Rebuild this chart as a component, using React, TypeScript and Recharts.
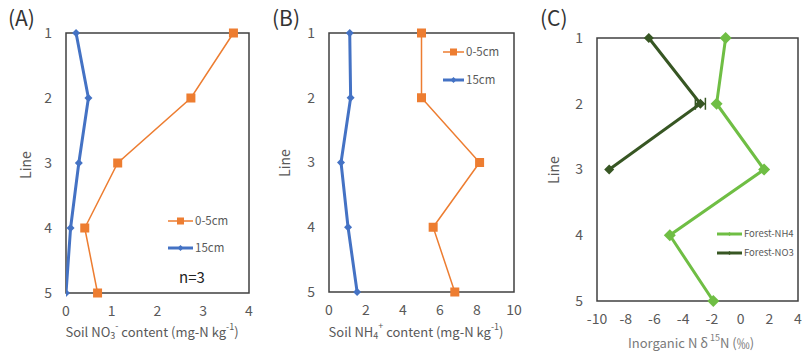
import React from 'react';
import { LineChart, Line, XAxis, YAxis, ReferenceArea, Legend, Label, ErrorBar } from 'recharts';

// ---- data ----
const lines = [1, 2, 3, 4, 5];
const no3Surface = [3.66, 2.73, 1.13, 0.41, 0.69];
const no3Deep = [0.22, 0.49, 0.28, 0.1, 0.0];
const nh4Surface = [5.0, 5.0, 8.14, 5.63, 6.8];
const nh4Deep = [1.12, 1.17, 0.65, 1.03, 1.52];
const d15NH4 = [-1.04, -1.67, 1.64, -4.93, -1.9];
const d15NO3: (number | null)[] = [-6.39, -2.8, -9.15, null, null];
const d15NO3Err: (number | null)[] = [null, 0.35, null, null, null];

const lineTicks = [1, 2, 3, 4, 5];
const ticksA = [0, 1, 2, 3, 4];
const ticksB = [0, 2, 4, 6, 8, 10];
const ticksC = [-10, -8, -6, -4, -2, 0, 2, 4];

const dataA = lines.map((l, i) => ({ line: l, s: no3Surface[i], d: no3Deep[i] }));
const dataB = lines.map((l, i) => ({ line: l, s: nh4Surface[i], d: nh4Deep[i] }));
const dataC = lines.map((l, i) => ({ line: l, nh4: d15NH4[i], no3: d15NO3[i], err: d15NO3Err[i] }));

const ORANGE = '#ED7D31';
const BLUE = '#4472C4';
const LGREEN = '#6FBE44';
const DGREEN = '#375623';
const GREY = '#595959';
const FONT = '"Noto Sans CJK JP", "Noto Sans", sans-serif';

const squareDot = (color: string, size: number) => (p: any) => {
  const { cx, cy, value, index } = p;
  if (cx == null || cy == null || value == null || Number.isNaN(cx)) return <g key={`s${index}`} />;
  return <rect key={`s${index}`} x={cx - size / 2} y={cy - size / 2} width={size} height={size} fill={color} />;
};
const diamondDot = (color: string, size: number) => (p: any) => {
  const { cx, cy, value, index } = p;
  if (cx == null || cy == null || value == null || Number.isNaN(cx)) return <g key={`d${index}`} />;
  const r = size / 2;
  return (
    <polygon
      key={`d${index}`}
      points={`${cx},${cy - r} ${cx + r},${cy} ${cx},${cy + r} ${cx - r},${cy}`}
      fill={color}
    />
  );
};

const tickStyle = { fontSize: 14, fill: GREY, fontFamily: FONT };

type Entry = { color: string; width: number; marker: 'square' | 'diamond'; msize: number; label: string };

const LegendBox = ({ entries, fontSize, gap, lineLen, extra }: { entries: Entry[]; fontSize: number; gap: number; lineLen: number; extra?: React.ReactNode }) => (
  <div style={{ fontFamily: FONT, color: GREY, fontSize, lineHeight: 1 }}>
    {entries.map((e, i) => (
      <div key={i} style={{ display: 'flex', alignItems: 'center', height: 14, marginBottom: i < entries.length - 1 ? gap : 0 }}>
        <svg width={lineLen} height={12} style={{ display: 'block' }}>
          <line x1={0} y1={6} x2={lineLen} y2={6} stroke={e.color} strokeWidth={e.width} />
          {e.marker === 'square' ? (
            <rect x={lineLen / 2 - e.msize / 2} y={6 - e.msize / 2} width={e.msize} height={e.msize} fill={e.color} />
          ) : (
            <polygon
              points={`${lineLen / 2},${6 - e.msize / 2} ${lineLen / 2 + e.msize / 2},6 ${lineLen / 2},${6 + e.msize / 2} ${lineLen / 2 - e.msize / 2},6`}
              fill={e.color}
            />
          )}
        </svg>
        <span style={{ marginLeft: 2 }}>{e.label}</span>
      </div>
    ))}
    {extra}
  </div>
);

const yTitle = (x: number, y: number) => (
  <Label
    content={() => (
      <text x={x} y={y} transform={`rotate(-90 ${x} ${y})`} textAnchor="middle" dominantBaseline="central" fontSize={14} fill={GREY} fontFamily={FONT}>
        Line
      </text>
    )}
  />
);

const xTitle = (x: number, y: number, parts: React.ReactNode, color = GREY) => (
  <Label
    content={() => (
      <text x={x} y={y} textAnchor="middle" dominantBaseline="central" fontSize={13} fill={color} fontFamily={FONT}>
        {parts}
      </text>
    )}
  />
);

const panelTitle = (text: string, left: number) => (
  <div style={{ position: 'absolute', left, top: 3, fontFamily: FONT, fontSize: 21, color: '#333', lineHeight: '28px' }}>{text}</div>
);

const legendWrap = (left: number, top: number, width: number) => ({
  position: 'absolute' as const, left, top, width, bottom: 'auto', right: 'auto', margin: 0,
});

export default function App() {
  return (
    <div style={{ position: 'absolute', left: 0, top: 0, width: 804, height: 355, background: '#fff', overflow: 'hidden' }}>
      {/* Panel A */}
      <div style={{ position: 'absolute', left: 0, top: 0 }}>
        <LineChart layout="vertical" width={270} height={355} data={dataA} margin={{ top: 33, bottom: 22, left: 26, right: 21 }}>
          <XAxis type="number" dataKey="s" domain={[0, 4]} ticks={ticksA} tickLine={false} axisLine={false} height={40} tick={tickStyle} tickMargin={7} allowDataOverflow>
            {xTitle(152, 331, (
              <>
                Soil NO<tspan fontSize={9} dy={4}>3</tspan>
                <tspan fontSize={9} dy={-10}>-</tspan>
                <tspan dy={6}> content (mg-N kg</tspan>
                <tspan fontSize={9} dy={-5}>-1</tspan>
                <tspan dy={5}>)</tspan>
              </>
            ))}
          </XAxis>
          <YAxis type="number" dataKey="line" domain={[1, 5]} ticks={lineTicks} tickLine={false} axisLine={false} width={40} tick={tickStyle} tickMargin={8}>
            {yTitle(25, 165)}
          </YAxis>
          <ReferenceArea x1={0} x2={4} y1={1} y2={5} fill="none" stroke="#404040" strokeWidth={1.5} strokeOpacity={1} />
          <Line dataKey="s" stroke={ORANGE} strokeWidth={1.5} dot={squareDot(ORANGE, 9)} isAnimationActive={false} />
          <Line dataKey="d" stroke={BLUE} strokeWidth={3} dot={diamondDot(BLUE, 8)} isAnimationActive={false} />
          <Legend
            layout="vertical"
            align="center"
            verticalAlign="middle"
            content={() => (
              <LegendBox
                fontSize={11.5}
                gap={13}
                lineLen={25}
                entries={[
                  { color: ORANGE, width: 1.5, marker: 'square', msize: 7, label: '0-5cm' },
                  { color: BLUE, width: 3, marker: 'diamond', msize: 6, label: '15cm' },
                ]}
                extra={<div style={{ marginTop: 14, marginLeft: 11, fontSize: 15, color: '#222' }}>n=3</div>}
              />
            )}
            wrapperStyle={legendWrap(168, 214, 80)}
          />
        </LineChart>
      </div>

      {/* Panel B */}
      <div style={{ position: 'absolute', left: 270, top: 0 }}>
        <LineChart layout="vertical" width={270} height={355} data={dataB} margin={{ top: 33, bottom: 23, left: 19, right: 26 }}>
          <XAxis type="number" dataKey="s" domain={[0, 10]} ticks={ticksB} tickLine={false} axisLine={false} height={40} tick={tickStyle} tickMargin={7} allowDataOverflow>
            {xTitle(146, 331, (
              <>
                Soil NH<tspan fontSize={9} dy={4}>4</tspan>
                <tspan fontSize={9} dy={-10}>+</tspan>
                <tspan dy={6}> content (mg-N kg</tspan>
                <tspan fontSize={9} dy={-5}>-1</tspan>
                <tspan dy={5}>)</tspan>
              </>
            ))}
          </XAxis>
          <YAxis type="number" dataKey="line" domain={[1, 5]} ticks={lineTicks} tickLine={false} axisLine={false} width={40} tick={tickStyle} tickMargin={8}>
            {yTitle(14, 163)}
          </YAxis>
          <ReferenceArea x1={0} x2={10} y1={1} y2={5} fill="none" stroke="#404040" strokeWidth={1.5} strokeOpacity={1} />
          <Line dataKey="s" stroke={ORANGE} strokeWidth={1.5} dot={squareDot(ORANGE, 9)} isAnimationActive={false} />
          <Line dataKey="d" stroke={BLUE} strokeWidth={3} dot={diamondDot(BLUE, 8)} isAnimationActive={false} />
          <Legend
            layout="vertical"
            align="center"
            verticalAlign="middle"
            content={() => (
              <LegendBox
                fontSize={11.5}
                gap={14}
                lineLen={21}
                entries={[
                  { color: ORANGE, width: 1.5, marker: 'square', msize: 7, label: '0-5cm' },
                  { color: BLUE, width: 3, marker: 'diamond', msize: 6, label: '15cm' },
                ]}
              />
            )}
            wrapperStyle={legendWrap(173, 45, 70)}
          />
        </LineChart>
      </div>

      {/* Panel C */}
      <div style={{ position: 'absolute', left: 540, top: 0 }}>
        <LineChart layout="vertical" width={264} height={355} data={dataC} margin={{ top: 38, bottom: 14, left: 17, right: 6 }}>
          <XAxis type="number" dataKey="nh4" domain={[-10, 4]} ticks={ticksC} tickLine={false} axisLine={false} height={40} tick={tickStyle} tickMargin={7} allowDataOverflow>
            {xTitle(151, 342, (
              <>
                Inorganic N δ<tspan fontSize={9} dy={-5}> 15</tspan>
                <tspan dy={5}>N (‰)</tspan>
              </>
            ), '#7a7a7a')}
          </XAxis>
          <YAxis type="number" dataKey="line" domain={[1, 5]} ticks={lineTicks} tickLine={false} axisLine={false} width={40} tick={tickStyle} tickMargin={8}>
            {yTitle(13, 170)}
          </YAxis>
          <ReferenceArea x1={-10} x2={4} y1={1} y2={5} fill="none" stroke="#404040" strokeWidth={1.5} strokeOpacity={1} />
          <Line dataKey="nh4" stroke={LGREEN} strokeWidth={3} dot={diamondDot(LGREEN, 12)} isAnimationActive={false} />
          <Line dataKey="no3" stroke={DGREEN} strokeWidth={3} dot={diamondDot(DGREEN, 10)} isAnimationActive={false}>
            <ErrorBar dataKey="err" direction="x" width={6} stroke={DGREEN} strokeWidth={1.5} />
          </Line>
          <Legend
            layout="vertical"
            align="center"
            verticalAlign="middle"
            content={() => (
              <LegendBox
                fontSize={9.5}
                gap={5}
                lineLen={25}
                entries={[
                  { color: LGREEN, width: 3, marker: 'diamond', msize: 4, label: 'Forest-NH4' },
                  { color: DGREEN, width: 3, marker: 'diamond', msize: 4, label: 'Forest-NO3' },
                ]}
              />
            )}
            wrapperStyle={legendWrap(177, 227, 85)}
          />
        </LineChart>
      </div>

      {panelTitle('(A)', 8)}
      {panelTitle('(B)', 272)}
      {panelTitle('(C)', 540)}
    </div>
  );
}
